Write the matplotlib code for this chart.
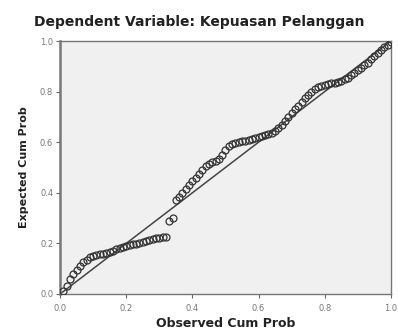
import numpy as np
import matplotlib
matplotlib.use('Agg')
import matplotlib.pyplot as plt

obs = [0.01, 0.02, 0.03, 0.04, 0.05, 0.06, 0.07, 0.08, 0.09, 0.10,
       0.11, 0.12, 0.13, 0.14, 0.15, 0.16, 0.17, 0.18, 0.19, 0.20,
       0.21, 0.22, 0.23, 0.24, 0.25, 0.26, 0.27, 0.28, 0.29, 0.30,
       0.31, 0.32, 0.33, 0.34, 0.35, 0.36, 0.37, 0.38, 0.39, 0.40,
       0.41, 0.42, 0.43, 0.44, 0.45, 0.46, 0.47, 0.48, 0.49, 0.50,
       0.51, 0.52, 0.53, 0.54, 0.55, 0.56, 0.57, 0.58, 0.59, 0.60,
       0.61, 0.62, 0.63, 0.64, 0.65, 0.66, 0.67, 0.68, 0.69, 0.70,
       0.71, 0.72, 0.73, 0.74, 0.75, 0.76, 0.77, 0.78, 0.79, 0.80,
       0.81, 0.82, 0.83, 0.84, 0.85, 0.86, 0.87, 0.88, 0.89, 0.90,
       0.91, 0.92, 0.93, 0.94, 0.95, 0.96, 0.97, 0.98, 0.99, 1.00]
esp = [0.01, 0.03, 0.06, 0.08, 0.095, 0.11, 0.125, 0.135, 0.145, 0.15,
       0.155, 0.158, 0.16, 0.163, 0.167, 0.17, 0.176, 0.182, 0.186, 0.19,
       0.193, 0.196, 0.199, 0.202, 0.206, 0.21, 0.214, 0.218, 0.221, 0.223,
       0.225, 0.227, 0.29, 0.30, 0.37, 0.385, 0.40, 0.415, 0.43, 0.445,
       0.46, 0.475, 0.49, 0.505, 0.515, 0.522, 0.527, 0.532, 0.55, 0.57,
       0.585, 0.592, 0.596, 0.60, 0.603, 0.606, 0.609, 0.612, 0.616, 0.62,
       0.624, 0.628, 0.633, 0.638, 0.645, 0.655, 0.668, 0.685, 0.70, 0.715,
       0.73, 0.745, 0.76, 0.775, 0.788, 0.80, 0.81, 0.818, 0.824, 0.828,
       0.831, 0.833, 0.835, 0.838, 0.842, 0.848, 0.855, 0.865, 0.875, 0.885,
       0.895, 0.905, 0.915, 0.928, 0.94, 0.952, 0.964, 0.975, 0.985, 0.995]
ticks = [0.0, 0.2, 0.4, 0.6, 0.8, 1.0]

plt.rcParams['font.family'] = ['DejaVu Sans']

fig = plt.figure(figsize=(3.98, 3.32), dpi=100)
ax = fig.add_axes([0.151, 0.1145, 0.831, 0.762])
ax.set_facecolor('#f0f0f0')

ax.plot([0, 1], [0, 1], color='#444444', lw=1.1, zorder=2)
ax.plot(obs, esp, 'o', mfc='none', mec='#333333', ms=5, mew=0.9, zorder=3)

ax.set_xlim(0, 1)
ax.set_ylim(0, 1)
ax.set_xticks(ticks)
ax.set_yticks(ticks)
ax.set_xticklabels(['%.1f' % t for t in ticks])
ax.set_yticklabels(['%.1f' % t for t in ticks])
ax.tick_params(length=3, width=0.8, color='#666666', labelsize=6, labelcolor='#777777', pad=2)
ax.tick_params(axis='x', pad=4)
for s in ax.spines.values():
    s.set_color('#777777')
    s.set_linewidth(1.0)
ax.spines['left'].set_linewidth(1.8)

ax.set_xlabel('Observed Cum Prob', fontsize=9, fontweight='bold', color='#222222', labelpad=3)
ax.set_ylabel('Expected Cum Prob', fontsize=8, fontweight='bold', color='#222222', labelpad=8)
fig.text(0.5, 0.935, 'Dependent Variable: Kepuasan Pelanggan', ha='center', va='center',
         fontsize=10, fontweight='bold', color='#222222')

plt.savefig('out.png', dpi=100)
